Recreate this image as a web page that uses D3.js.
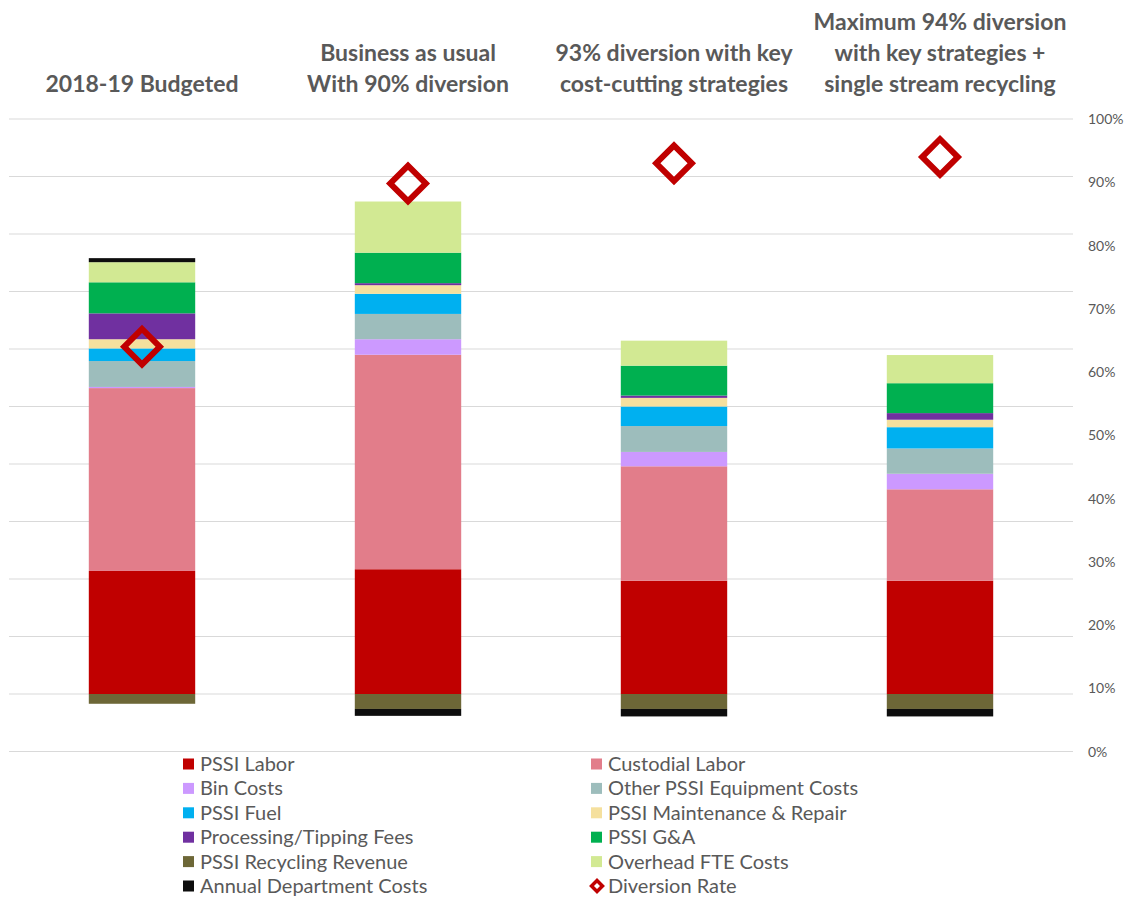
<!DOCTYPE html>
<html>
<head>
<meta charset="utf-8">
<script src="https://cdn.jsdelivr.net/npm/d3@7"></script>
<style>
  body { margin: 0; background: #fff; }
  svg { display: block; font-family: Lato, "Open Sans", sans-serif; }
</style>
</head>
<body>
<svg id="chart" width="1132" height="899"></svg>
<script>
// scenarios (x categories)
var scenarios = ["2018-19 Budgeted", "Business as usual", "93% diversion", "Maximum 94% diversion"]
var titleLines = [
  ["2018-19 Budgeted"],
  ["Business as usual", "With 90% diversion"],
  ["93% diversion with key", "cost-cutting strategies"],
  ["Maximum 94% diversion", "with key strategies +", "single stream recycling"]
]

// series values, $K
var pssiLabor       = [214, 217, 197, 197]
var custodialLabor  = [318, 373, 199, 159]
var binCosts        = [2, 27, 25, 27]
var otherEquipment  = [45, 44, 45, 44]
var pssiFuel        = [22, 35, 34, 37]
var maintenance     = [16, 15, 15, 13]
var tippingFees     = [45, 3.5, 4, 11.5]
var pssiGA          = [54, 53, 52, 52]
var recyclingRev    = [-17, -26, -26, -26]
var overheadFTE     = [35, 89, 43.5, 49]
var annualDept      = [7, -12, -13, -13]
var diversionRate   = [0.64, 0.898, 0.93, 0.94]

var seriesNames = ["PSSI Labor", "Custodial Labor", "Bin Costs", "Other PSSI Equipment Costs",
  "PSSI Fuel", "PSSI Maintenance & Repair", "Processing/Tipping Fees", "PSSI G&A",
  "PSSI Recycling Revenue", "Overhead FTE Costs", "Annual Department Costs"]
var seriesValues = [pssiLabor, custodialLabor, binCosts, otherEquipment, pssiFuel, maintenance,
  tippingFees, pssiGA, recyclingRev, overheadFTE, annualDept]
var colors = ["#C00000", "#E27D8A", "#CC99FF", "#9DBDBC", "#00B0F0", "#F5E09E",
  "#7030A0", "#00B050", "#6D6737", "#D2E993", "#0D0D0D"]
var pctTicks = [0, 0.1, 0.2, 0.3, 0.4, 0.5, 0.6, 0.7, 0.8, 0.9, 1]

var svg = d3.select("#chart")
var grey = "#595959"

var x = d3.scaleBand().domain(scenarios).range([9, 1073]).paddingInner(0.6).paddingOuter(0.3)
var y = d3.scaleLinear().domain([-100, 1000]).range([751.5, 119])
var y2 = d3.scaleLinear().domain([0, 1]).range([751.5, 119])

// gridlines from the (hidden) primary axis
svg.append("g")
  .selectAll("line")
  .data(d3.range(-100, 1001, 100))
  .join("line")
  .attr("x1", 9).attr("x2", 1073)
  .attr("y1", d => y(d)).attr("y2", d => y(d))
  .attr("stroke", "#d9d9d9").attr("stroke-width", 1)

// secondary axis labels
svg.append("g")
  .selectAll("text")
  .data(pctTicks)
  .join("text")
  .attr("x", 1088)
  .attr("y", d => y2(d) + 5)
  .attr("fill", grey)
  .style("font-size", "14px")
  .text(d => d3.format(".0%")(d))

// stacked bars
var rows = scenarios.map(function(s, i) {
  var r = { scenario: s }
  seriesNames.forEach(function(n, k) { r[n] = seriesValues[k][i] })
  return r
})
var stack = d3.stack().keys(seriesNames).offset(d3.stackOffsetDiverging)
var layers = stack(rows)

svg.append("g")
  .selectAll("g")
  .data(layers)
  .join("g")
  .attr("fill", (d, i) => colors[i])
  .selectAll("rect")
  .data(d => d)
  .join("rect")
  .attr("x", d => x(d.data.scenario))
  .attr("width", x.bandwidth())
  .attr("y", d => y(Math.max(d[0], d[1])))
  .attr("height", d => Math.abs(y(d[0]) - y(d[1])))

// diversion rate markers
var diamond = d3.symbol(d3.symbolSquare, 635)
svg.append("g")
  .selectAll("path")
  .data(diversionRate)
  .join("path")
  .attr("d", diamond)
  .attr("transform", (d, i) => "translate(" + (x(scenarios[i]) + x.bandwidth() / 2) + "," + y2(d) + ") rotate(45)")
  .attr("fill", "none")
  .attr("stroke", "#C00000")
  .attr("stroke-width", 6)

// column titles
titleLines.forEach(function(lines, i) {
  var cx = x(scenarios[i]) + x.bandwidth() / 2
  var n = lines.length
  lines.forEach(function(t, j) {
    svg.append("text")
      .attr("x", cx)
      .attr("y", 92 - (n - 1 - j) * 31)
      .attr("text-anchor", "middle")
      .attr("fill", grey)
      .style("font-size", "23px")
      .style("font-weight", "bold")
      .text(t)
  })
})

// legend
var legendItems = seriesNames.map((n, i) => ({ name: n, color: colors[i], type: "rect" }))
legendItems.push({ name: "Diversion Rate", color: "#C00000", type: "diamond" })

var legend = svg.append("g")
legendItems.forEach(function(d, i) {
  var col = i % 2, row = Math.floor(i / 2)
  var lx = col == 0 ? 183 : 591
  var ly = 764 + row * 24.4
  if (d.type == "rect") {
    legend.append("rect")
      .attr("x", lx).attr("y", ly - 5.5)
      .attr("width", 11).attr("height", 11)
      .attr("fill", d.color)
  } else {
    legend.append("path")
      .attr("d", d3.symbol(d3.symbolSquare, 60))
      .attr("transform", "translate(" + (lx + 6) + "," + ly + ") rotate(45)")
      .attr("fill", "#fff")
      .attr("stroke", d.color)
      .attr("stroke-width", 3.5)
  }
  legend.append("text")
    .attr("x", lx + 17)
    .attr("y", ly + 7)
    .attr("fill", grey)
    .style("font-size", "20px")
    .text(d.name)
})
</script>
</body>
</html>
